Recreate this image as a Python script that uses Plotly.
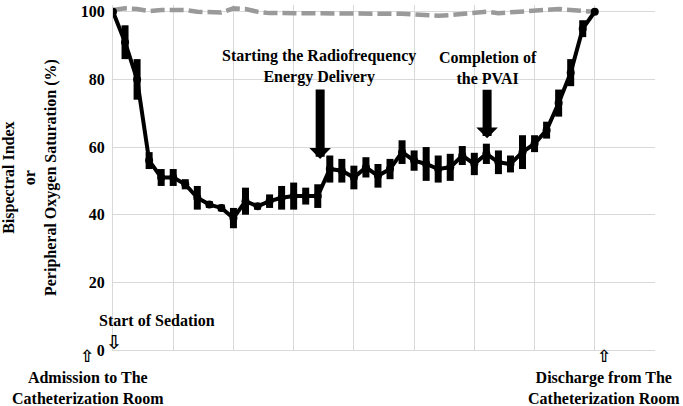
import plotly.graph_objects as go

# Time index (equally spaced measurement points)
time_idx = list(range(41))

# Bispectral index (mean) and its error (SD)
bis_mean = [100, 91, 80, 56, 51, 51, 49, 45, 43, 42,
            39, 44, 42.5, 44, 45, 45.5, 45.5, 45.5, 53.5, 53,
            51, 54, 51.5, 53.5, 58.5, 56, 55, 53.5, 54, 57.5,
            55, 58, 55.5, 55, 58.5, 61, 65, 73, 82, 95, 100]
bis_err = [0, 5, 6, 2.5, 2.5, 2.5, 1.5, 3.5, 1, 1,
           3, 4, 1, 2, 3.5, 4, 2.5, 3.5, 4, 3.5,
           3.5, 3, 3.5, 3, 3.5, 3, 5, 4, 4, 2.8,
           3.3, 3, 3.5, 2.5, 5, 2.5, 2.5, 4, 4, 2.5, 0]

# Peripheral oxygen saturation
spo2 = [100.5, 101, 100.8, 100.2, 100.5, 100.5, 100.5, 100, 99.8, 99.8,
        101, 100.8, 100, 99.6, 99.6, 99.6, 99.6, 99.6, 99.6, 99.5,
        99.5, 99.5, 99.5, 99.5, 99.4, 99.2, 99, 98.8, 99, 99.3,
        99.8, 100, 99.6, 99.8, 100, 100.3, 100.5, 100.8, 100.5, 100.2, 100]

y_ticks = [0, 20, 40, 60, 80, 100]
y_tick_labels = ["0", "20", "40", "60", "80", "100"]

X_MAX = 45
FONT = "Liberation Serif"


def px(xv):
    """data x -> paper x (for labels outside the plotted x range)"""
    return xv / X_MAX


fig = go.Figure()

fig.add_trace(go.Scatter(
    x=time_idx, y=spo2, mode="lines",
    line=dict(color="#9a9a9a", width=4.5, dash="14px,5px"),
    hoverinfo="skip", showlegend=False))

fig.add_trace(go.Scatter(
    x=time_idx, y=bis_mean, mode="lines+markers",
    line=dict(color="black", width=4),
    marker=dict(color="black", size=8),
    error_y=dict(type="data", array=bis_err, visible=True,
                 color="black", thickness=7, width=0),
    showlegend=False))

annotations = [
    # y axis title
    dict(text="<b>Bispectral Index<br>or<br>Peripheral Oxygen Saturation (%)</b>",
         xref="paper", yref="paper", x=-0.154, y=0.5, textangle=-90,
         xanchor="center", yanchor="middle", showarrow=False,
         font=dict(family=FONT, size=16, color="black")),
    # RF label
    dict(text="<b>Starting the Radiofrequency<br>Energy Delivery</b>",
         x=17.1, y=83.8, xref="x", yref="y", showarrow=False,
         xanchor="center", yanchor="middle",
         font=dict(family=FONT, size=16, color="black")),
    dict(text="", x=17.2, y=56.5, xref="x", yref="y", showarrow=True,
         ax=0, ay=-71, arrowhead=1, arrowwidth=9, arrowsize=0.4,
         arrowcolor="black"),
    # PVAI label
    dict(text="<b>Completion of<br>the PVAI</b>",
         x=31.15, y=83.5, xref="x", yref="y", showarrow=False,
         xanchor="center", yanchor="middle",
         font=dict(family=FONT, size=16, color="black")),
    dict(text="", x=31.06, y=62.6, xref="x", yref="y", showarrow=True,
         ax=0, ay=-50, arrowhead=1, arrowwidth=9, arrowsize=0.4,
         arrowcolor="black"),
    # Start of sedation
    dict(text="<b>Start of Sedation</b>", x=px(-1.35), y=8.6,
         xref="paper", yref="y",
         showarrow=False, xanchor="left", yanchor="middle",
         font=dict(family=FONT, size=16, color="black")),
    dict(text="<b>⇩</b>", x=px(0.1), y=2.3, xref="paper", yref="y",
         showarrow=False, xanchor="center", yanchor="middle",
         font=dict(family="DejaVu Sans", size=19, color="black")),
    # Admission
    dict(text="<b>⇧</b>", x=px(-2.16), y=-0.016, xref="paper", yref="paper",
         showarrow=False, xanchor="center", yanchor="middle",
         font=dict(family="DejaVu Sans", size=17, color="black")),
    dict(text="<b>Admission to The<br>Catheterization Room</b>",
         x=px(-2.1), y=-0.11, xref="paper", yref="paper",
         showarrow=False, xanchor="center", yanchor="middle",
         font=dict(family=FONT, size=16, color="black")),
    # Discharge
    dict(text="<b>⇧</b>", x=px(40.8), y=-0.016, xref="paper", yref="paper",
         showarrow=False, xanchor="center", yanchor="middle",
         font=dict(family="DejaVu Sans", size=17, color="black")),
    dict(text="<b>Discharge from The<br>Catheterization Room</b>",
         x=px(40.8), y=-0.11, xref="paper", yref="paper",
         showarrow=False, xanchor="center", yanchor="middle",
         font=dict(family=FONT, size=16, color="black")),
]

fig.update_layout(
    width=683, height=406,
    margin=dict(l=113, r=28, t=3, b=56),
    paper_bgcolor="white", plot_bgcolor="white",
    font=dict(family=FONT, size=16, color="black"),
    annotations=annotations,
    xaxis=dict(range=[0, X_MAX], dtick=5, tick0=0, showgrid=True,
               gridcolor="#d9d9d9", gridwidth=1, zeroline=False,
               showticklabels=False, showline=True, linecolor="#d9d9d9",
               linewidth=1),
    yaxis=dict(range=[0, 102], tickvals=y_ticks, ticktext=y_tick_labels,
               showgrid=True, gridcolor="#d9d9d9", gridwidth=1,
               zeroline=False, showline=True, linecolor="#d9d9d9",
               linewidth=1, ticks="outside", ticklen=4, tickcolor="white",
               tickfont=dict(family=FONT, size=16, color="black",
                             weight="bold")),
)

fig.write_html("out.html",
               config={"displayModeBar": False},
               post_script="document.body.style.margin='0';"
                           "document.body.style.overflow='hidden';")
